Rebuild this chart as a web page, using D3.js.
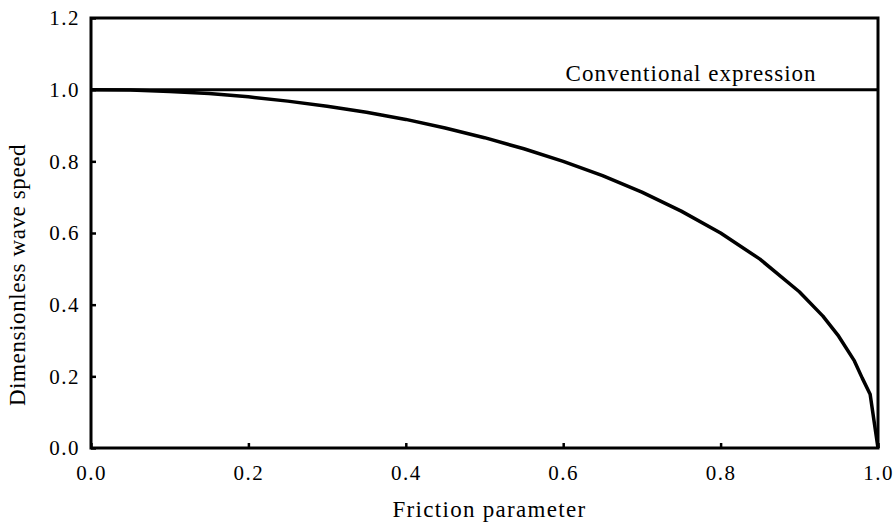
<!DOCTYPE html>
<html>
<head>
<meta charset="utf-8">
<script src="https://cdn.jsdelivr.net/npm/d3@7"></script>
<style>
  body { margin: 0; background: #fff; }
</style>
</head>
<body>
<div id="chart"></div>
<script>
// Friction parameter (x) and dimensionless wave speed (y)
const frictionValues = [0, 0.05, 0.1, 0.15, 0.2, 0.25, 0.3, 0.35, 0.4, 0.45, 0.5, 0.55,
                        0.6, 0.65, 0.7, 0.75, 0.8, 0.85, 0.9, 0.93, 0.95, 0.97, 0.98, 0.99, 1.0];
const waveSpeedValues = [1.0, 0.999, 0.995, 0.989, 0.98, 0.968, 0.954, 0.937, 0.917, 0.893, 0.866, 0.835,
                         0.8, 0.76, 0.714, 0.661, 0.6, 0.527, 0.436, 0.368, 0.312, 0.243, 0.195, 0.15, 0.0];
// conventional expression: constant speed of 1
const conventionalX = [0, 1];
const conventionalY = [1, 1];

const xTicks = [0, 0.2, 0.4, 0.6, 0.8, 1.0];
const yTicks = [0, 0.2, 0.4, 0.6, 0.8, 1.0, 1.2];

const FONT = "'Liberation Serif', 'Times New Roman', Tinos, Times, serif";

const width = 894;
const height = 527;
const margin = { top: 18, right: 16, bottom: 79, left: 91 };
const chartWidth = width - margin.left - margin.right;
const chartHeight = height - margin.top - margin.bottom;

const svg = d3.select('#chart')
    .append('svg')
    .attr('width', width)
    .attr('height', height)
    .attr('font-family', FONT);

const x = d3.scaleLinear().domain([0, 1]).range([0, chartWidth]);
const y = d3.scaleLinear().domain([0, 1.2]).range([chartHeight, 0]);

const g = svg.append('g')
    .attr('transform', `translate(${margin.left}, ${margin.top})`);

// axes with inward ticks
const xAxis = g.append('g')
    .attr('transform', `translate(0, ${chartHeight})`)
    .call(d3.axisBottom(x).tickValues(xTicks).tickSize(-5).tickPadding(17).tickFormat(d3.format('.1f')));
const yAxis = g.append('g')
    .call(d3.axisLeft(y).tickValues(yTicks).tickSize(-5).tickPadding(11).tickFormat(d3.format('.1f')));

[xAxis, yAxis].forEach(ax => {
    ax.attr('font-family', FONT).attr('font-size', 21);
    ax.select('.domain').remove();
    ax.selectAll('.tick line').attr('stroke', '#000').attr('stroke-width', 2.5);
    ax.selectAll('.tick text')
        .attr('fill', '#000')
        .style('letter-spacing', '1.5px');
});

// frame
g.append('rect')
    .attr('x', 0)
    .attr('y', 0)
    .attr('width', chartWidth)
    .attr('height', chartHeight)
    .attr('fill', 'none')
    .attr('stroke', '#000')
    .attr('stroke-width', 3);

const line = d3.line()
    .x(d => x(d[0]))
    .y(d => y(d[1]));

// conventional expression line
g.append('path')
    .datum(d3.zip(conventionalX, conventionalY))
    .attr('d', line)
    .attr('fill', 'none')
    .attr('stroke', '#000')
    .attr('stroke-width', 3);

g.append('text')
    .attr('x', (x(0.595) + x(0.93)) / 2)
    .attr('y', y(1.0) - 9)
    .attr('text-anchor', 'middle')
    .attr('font-size', 23)
    .style('letter-spacing', '1px')
    .text('Conventional expression');

// wave speed curve
g.append('path')
    .datum(d3.zip(frictionValues, waveSpeedValues))
    .attr('d', line)
    .attr('fill', 'none')
    .attr('stroke', '#000')
    .attr('stroke-width', 3.5)
    .attr('stroke-linejoin', 'round');

// axis titles
g.append('text')
    .attr('x', chartWidth / 2 + 5)
    .attr('y', chartHeight + 69)
    .attr('text-anchor', 'middle')
    .attr('font-size', 23)
    .style('letter-spacing', '1.3px')
    .text('Friction parameter');

g.append('text')
    .attr('transform', 'rotate(-90)')
    .attr('x', -chartHeight / 2 - 42)
    .attr('y', -66)
    .attr('text-anchor', 'middle')
    .attr('font-size', 23)
    .style('letter-spacing', '0.6px')
    .text('Dimensionless wave speed');
</script>
</body>
</html>
